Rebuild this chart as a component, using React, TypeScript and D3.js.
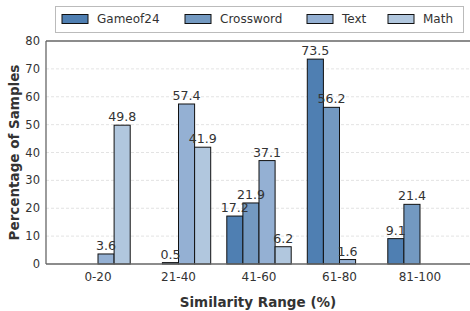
import React from "react";
import * as d3 from "d3";

const categories = ["0-20", "21-40", "41-60", "61-80", "81-100"];
const seriesNames = ["Gameof24", "Crossword", "Text", "Math"];
const gameof24 = [0, 0, 17.2, 73.5, 9.1];
const crossword = [0, 0.5, 21.9, 56.2, 21.4];
const text = [3.6, 57.4, 37.1, 1.6, 0];
const math = [49.8, 41.9, 6.2, 0, 0];
const yTicks = [0, 10, 20, 30, 40, 50, 60, 70, 80];
const colors = ["#4f7fb2", "#7399c1", "#94b0d3", "#b1c7de"];

const seriesValues = [gameof24, crossword, text, math];

export default function App() {
  const W = 470, H = 311;
  const left = 46, right = 472, top = 41, bottom = 264;
  const x = d3.scaleLinear().domain([-0.646, 4.646]).range([left, right]);
  const y = d3.scaleLinear().domain([0, 80]).range([bottom, top]);
  const bw = 0.2;
  const font = "DejaVu Sans, sans-serif";
  const legendX = [62, 185, 307, 388];

  return (
    <svg width={W} height={H} style={{ position: "absolute", left: 0, top: 0 }} fontFamily={font}>
      <rect x={0} y={0} width={W} height={H} fill="#fff" />
      {yTicks.filter(t => t > 0 && t < 80).map(t => (
        <line key={t} x1={left} x2={right} y1={y(t)} y2={y(t)} stroke="#dcdcdc" strokeWidth={0.8} strokeDasharray="3,2" />
      ))}
      {seriesValues.map((vals, s) =>
        vals.map((v, i) => {
          const x0 = x(i - 0.4 + s * bw);
          const x1 = x(i - 0.4 + (s + 1) * bw);
          return (
            <rect key={`${s}-${i}`} x={x0} y={y(v)} width={x1 - x0} height={y(0) - y(v)}
              fill={colors[s]} stroke="#111" strokeWidth={1} />
          );
        })
      )}
      {seriesValues.map((vals, s) =>
        vals.map((v, i) => v > 0 ? (
          <text key={`l${s}-${i}`} x={x(i - 0.3 + s * bw)} y={y(v) - 4} textAnchor="middle" fontSize={12.6} fill="#333">{v.toFixed(1)}</text>
        ) : null)
      )}
      <line x1={left} x2={left} y1={top} y2={bottom} stroke="#666" strokeWidth={1.3} />
      <line x1={left} x2={right} y1={bottom} y2={bottom} stroke="#666" strokeWidth={1.3} />
      <line x1={left} x2={right} y1={top} y2={top} stroke="#666" strokeWidth={1.3} />
      {yTicks.map(t => (
        <text key={t} x={40} y={y(t)} dy="0.35em" textAnchor="end" fontSize={11.5} fill="#333">{t}</text>
      ))}
      {categories.map((c, i) => (
        <text key={c} x={x(i)} y={277} dy="0.35em" textAnchor="middle" fontSize={12} fill="#333">{c}</text>
      ))}
      <text x={258} y={302} dy="0.35em" textAnchor="middle" fontSize={13.5} fontWeight="bold" fill="#333">Similarity Range (%)</text>
      <text transform={`translate(14,${(top + bottom) / 2}) rotate(-90)`} dy="0.35em" textAnchor="middle" fontSize={13.5} fontWeight="bold" fill="#333">Percentage of Samples</text>
      <rect x={55.5} y={6.5} width={408} height={26} fill="#fff" stroke="#bbb" strokeWidth={1} />
      {seriesNames.map((n, s) => (
        <g key={n}>
          <rect x={legendX[s]} y={14.5} width={26} height={9} fill={colors[s]} stroke="#111" strokeWidth={1} />
          <text x={legendX[s] + 35} y={19} dy="0.35em" fontSize={12} fill="#333">{n}</text>
        </g>
      ))}
    </svg>
  );
}
